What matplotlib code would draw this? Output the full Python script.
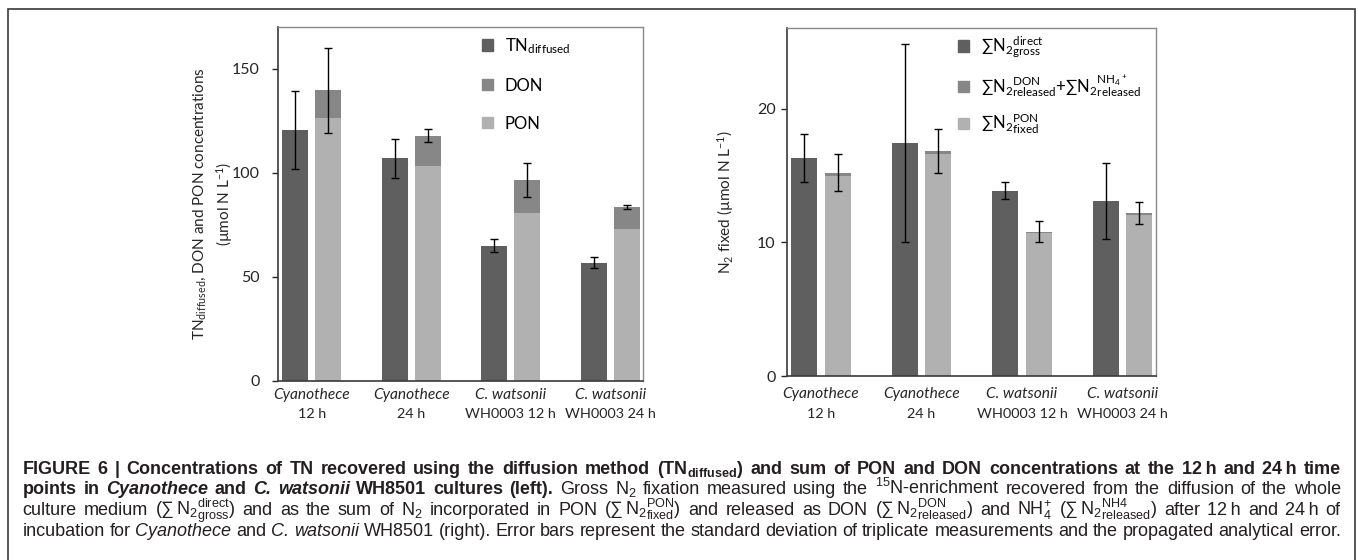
import numpy as np
import matplotlib
matplotlib.use('Agg')
import matplotlib.pyplot as plt
from matplotlib.patches import Patch, Rectangle

plt.rcParams['mathtext.fontset'] = 'custom'
plt.rcParams['mathtext.rm'] = 'Liberation Sans'
plt.rcParams['mathtext.it'] = 'Liberation Sans:italic'
plt.rcParams['mathtext.bf'] = 'Liberation Sans:bold'
plt.rcParams['mathtext.sf'] = 'Lato'

CHART_FONT = ['Lato', 'DejaVu Sans']
CAP_FONT = ['Liberation Sans', 'DejaVu Sans']
W, H = 1358, 560

# categories (two-line labels: italic name + plain suffix)
categories = ['Cyanothece', 'Cyanothece', 'C. watsonii', 'C. watsonii']
cat_sub = ['12 h', '24 h', 'WH0003 12 h', 'WH0003 24 h']

# left panel (µmol N L-1)
tn_diffused = [120.7, 106.9, 64.9, 56.9]
tn_err = [18.8, 9.5, 3.1, 2.7]
pon = [126.3, 103.4, 80.9, 72.9]
don = [13.3, 14.4, 15.7, 10.6]
pon_don_err = [20.3, 3.0, 8.1, 0.9]

# right panel (µmol N L-1)
n2_gross = [16.3, 17.4, 13.86, 13.1]
n2_gross_err = [1.77, 7.4, 0.65, 2.85]
n2_pon = [14.98, 16.58, 10.67, 12.04]
n2_released = [0.22, 0.27, 0.13, 0.15]
n2_sum_err = [1.4, 1.65, 0.8, 0.85]

left_legend = [r'TN$_{\mathsf{diffused}}$', 'DON', 'PON']
right_legend = [
    r'∑N$_{\mathsf{2}}{}^{\mathsf{direct}}_{\mathsf{gross}}$',
    r'∑N$_{\mathsf{2}}{}^{\mathsf{DON}}_{\mathsf{released}}$+∑N$_{\mathsf{2}}{}^{\mathsf{NH_4{}^+}}_{\mathsf{released}}$',
    r'∑N$_{\mathsf{2}}{}^{\mathsf{PON}}_{\mathsf{fixed}}$',
]

DARK = '#5f5f5f'
MID = '#878787'
LIGHT = '#b1b1b1'


def draw_panel(ax, dark, dark_err, low, high, top_err, ymax, yticks,
               ylabel, ylab_x, leg_labels, leg_anchor, leg_space, lab_off, tick_pad):
    x = np.arange(len(categories))
    w = 0.26
    ax.bar(x - 0.167, dark, w, color=DARK, zorder=2)
    ax.bar(x + 0.167, low, w, color=LIGHT, zorder=2)
    ax.bar(x + 0.167, high, w, bottom=low, color=MID, zorder=2)
    ax.errorbar(x - 0.167, dark, yerr=dark_err, fmt='none', ecolor='black',
                elinewidth=1, capsize=3, capthick=1, zorder=3)
    tot = np.array(low) + np.array(high)
    ax.errorbar(x + 0.167, tot, yerr=top_err, fmt='none', ecolor='black',
                elinewidth=1, capsize=3, capthick=1, zorder=3)

    ax.set_xlim(-0.34, 3.33)
    ax.set_ylim(0, ymax)
    ax.set_yticks(yticks)
    ax.set_yticklabels([str(v) for v in yticks], family=CHART_FONT, fontsize=11.5)
    ax.tick_params(axis='y', direction='out', length=4, width=1, pad=tick_pad,
                   colors='#262626')
    ax.set_xticks([])
    for s in ['left', 'bottom']:
        ax.spines[s].set_color('#3a3a3a')
        ax.spines[s].set_linewidth(1.2)
    for s in ['top', 'right']:
        ax.spines[s].set_color('#8a8a8a')
        ax.spines[s].set_linewidth(1)

    for xi, (c, s) in enumerate(zip(categories, cat_sub)):
        ax.annotate(c, (xi, 0), xycoords=('data', 'axes fraction'),
                    xytext=(0, -lab_off), textcoords='offset pixels',
                    ha='center', va='center', style='italic',
                    family=CHART_FONT, fontsize=11.2, color='#262626')
        ax.annotate(s, (xi, 0), xycoords=('data', 'axes fraction'),
                    xytext=(0, -lab_off - 19.5), textcoords='offset pixels',
                    ha='center', va='center',
                    family=CHART_FONT, fontsize=10.4, color='#262626')

    ax.text(ylab_x, 0.5, ylabel, transform=ax.transAxes, rotation=90,
            ha='center', va='center', multialignment='center',
            family=CHART_FONT, fontsize=11, color='#262626', linespacing=1.35)

    handles = [Patch(color=DARK), Patch(color=MID), Patch(color=LIGHT)]
    ax.legend(handles, leg_labels, loc='upper left', bbox_to_anchor=leg_anchor,
              frameon=False, handlelength=0.65, handleheight=0.65,
              handletextpad=0.7, labelspacing=leg_space, borderpad=0,
              borderaxespad=0, prop={'family': CHART_FONT, 'size': 12})


fig = plt.figure(figsize=(W / 100, H / 100), dpi=100)

ax1 = fig.add_axes([278 / W, 1 - 381 / H, 365 / W, 354 / H])
draw_panel(ax1, tn_diffused, tn_err, pon, don, pon_don_err, 170, [0, 50, 100, 150],
           'TN$_{\\mathsf{diffused}}$, DON and PON concentrations\n(µmol N L$^{\\mathsf{-1}}$)',
           -0.178, left_legend, (0.56, 0.975), 1.32, 14, 9)

ax2 = fig.add_axes([786.7 / W, 1 - 376 / H, 369 / W, 347.7 / H])
draw_panel(ax2, n2_gross, n2_gross_err, n2_pon, n2_released, n2_sum_err, 26, [0, 10, 20],
           'N$_{\\mathsf{2}}$ fixed (µmol N L$^{\\mathsf{-1}}$)',
           -0.167, right_legend, (0.465, 0.982), 0.72, 18, 4)

# outer frame
fig.add_artist(Rectangle((8 / W, -0.05), (1354.7 - 8) / W, 1.05 - 9.3 / H,
                         transform=fig.transFigure, fill=False,
                         ec='#3a3a3a', lw=1.2))

# caption, justified line by line
cap_lines = [
    [(r'FIGURE 6 | Concentrations of TN recovered using the diffusion method (TN$_{\mathbf{diffused}}$) and sum of PON and DON concentrations at the 12' + '\u2009' + 'h and 24' + '\u2009' + 'h time', 'b')],
    [('points in', 'b'), ('Cyanothece', 'bi'), ('and', 'b'), ('C. watsonii', 'bi'),
     ('WH8501 cultures (left).', 'b'),
     (r'Gross N$_{2}$ fixation measured using the $^{15}$N-enrichment recovered from the diffusion of the whole', 'r')],
    [(r'culture medium ($\sum\,\mathrm{N}_{2}{}^{\mathrm{direct}}_{\mathrm{gross}}$) and as the sum of N$_{2}$ incorporated in PON ($\sum\,\mathrm{N}_{2}{}^{\mathrm{PON}}_{\mathrm{fixed}}$) and released as DON ($\sum\,\mathrm{N}_{2}{}^{\mathrm{DON}}_{\mathrm{released}}$) and NH$_{4}^{+}$ ($\sum\,\mathrm{N}_{2}{}^{\mathrm{NH4}}_{\mathrm{released}}$) after 12' + '\u2009' + 'h and 24' + '\u2009' + 'h of', 'r')],
    [('incubation for', 'r'), ('Cyanothece', 'i'), ('and', 'r'), ('C. watsonii', 'i'),
     ('WH8501 (right). Error bars represent the standard deviation of triplicate measurements and the propagated analytical error.', 'r')],
]
cap_base = [473.5, 494.2, 514.9, 535.6]
X0, X1 = 22.7, 1340.7

r = fig.canvas.get_renderer()
cap_texts = []
for segs, yb in zip(cap_lines, cap_base):
    row = []
    for s, st in segs:
        for w in s.split(' '):
            row.append(fig.text(0, 1 - yb / H, w, family=CAP_FONT,
                                fontweight='bold' if 'b' in st else 'normal',
                                fontstyle='italic' if 'i' in st else 'normal',
                                va='baseline', ha='left', color='#231f20'))
    cap_texts.append(row)


def line_widths(size):
    out = []
    for row in cap_texts:
        ws = []
        for t in row:
            t.set_fontsize(size)
            ws.append(t.get_window_extent(r).width)
        out.append(ws)
    return out


# largest common size at which every line fits with a normal word gap
size = 13.0
while size > 9:
    widths = line_widths(size)
    space = 0.26 * size * 100 / 72
    if all(sum(ws) + space * (len(ws) - 1) <= X1 - X0 for ws in widths):
        break
    size -= 0.1

for row, ws in zip(cap_texts, widths):
    gap = (X1 - X0 - sum(ws)) / (len(ws) - 1)
    x = X0
    for t, wd in zip(row, ws):
        t.set_x(x / W)
        x += wd + gap

fig.savefig('out.png', dpi=100)
